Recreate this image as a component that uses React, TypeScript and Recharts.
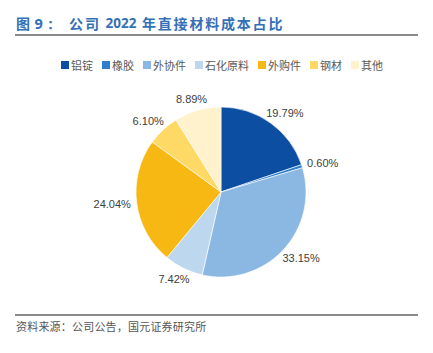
import React from 'react';
import { PieChart, Pie, Cell } from 'recharts';

const categories = ['铝锭', '橡胶', '外协件', '石化原料', '外购件', '钢材', '其他'];
const shares = [19.79, 0.6, 33.15, 7.42, 24.04, 6.1, 8.89];
const colors = ['#0B4EA2', '#2F7FCF', '#8AB8E2', '#BDD7EE', '#F8B814', '#FFD966', '#FFF2CC'];

const data = categories.map((name, i) => ({ name, value: shares[i] }));

const RAD = Math.PI / 180;

const renderLabel = (props: any) => {
  const { cx, cy, midAngle, outerRadius, index } = props;
  const text = shares[index].toFixed(2) + '%';
  const dx = Math.cos(-midAngle * RAD);
  const dy = Math.sin(-midAngle * RAD);
  const r = outerRadius + 6;
  const ax = cx + r * dx;
  const ay = cy + r * dy;
  const w = text.length * 5.9 + 2;
  const h = 12;
  const x = ax + (dx * w) / 2;
  const y = ay + (dy * h) / 2;
  return (
    <text
      x={x}
      y={y}
      textAnchor="middle"
      dominantBaseline="central"
      fill="#404040"
      fontSize={11}
      fontFamily="'Liberation Sans', Arial, sans-serif"
    >
      {text}
    </text>
  );
};

const cjk = "'Noto Sans CJK SC', sans-serif";

export default function App() {
  return (
    <div style={{ position: 'absolute', left: 0, top: 0, width: 433, height: 353, background: '#fff', overflow: 'hidden' }}>
      <div style={{ position: 'absolute', left: 0, top: 0, width: 433, height: 353, fontFamily: cjk, color: '#3370B7', fontWeight: 700, fontSize: 14, lineHeight: '14px' }}>
        <span style={{ position: 'absolute', left: 16, top: 16 }}>图</span>
        <span style={{ position: 'absolute', left: 34.5, top: 16, fontFamily: "'Noto Sans', sans-serif", fontSize: 14.5 }}>9：</span>
        <span style={{ position: 'absolute', left: 69, top: 16, letterSpacing: 2 }}>公司</span>
        <span style={{ position: 'absolute', left: 105.5, top: 16, fontFamily: "'Noto Sans', sans-serif", fontSize: 13.5 }}>2022</span>
        <span style={{ position: 'absolute', left: 142, top: 16, letterSpacing: 1.8 }}>年直接材料成本占比</span>
      </div>
      <div style={{ position: 'absolute', left: 15, top: 34, width: 403, height: 2, background: '#8C8C8C' }} />
      <div style={{ position: 'absolute', left: 61, top: 58, display: 'flex', alignItems: 'center', fontFamily: cjk, fontSize: 11, color: '#595959', lineHeight: '14px', whiteSpace: 'nowrap' }}>
        {categories.map((c, i) => (
          <div key={c} style={{ display: 'flex', alignItems: 'center', marginRight: 9 }}>
            <div style={{ width: 8, height: 8, background: colors[i], marginRight: 2 }} />
            <span>{c}</span>
          </div>
        ))}
      </div>
      <div style={{ position: 'absolute', left: 0, top: 0 }}>
        <PieChart width={433} height={353} margin={{ top: 0, right: 0, bottom: 0, left: 0 }}>
          <Pie
            data={data}
            dataKey="value"
            nameKey="name"
            cx={221}
            cy={192}
            outerRadius={85}
            startAngle={90}
            endAngle={-270}
            stroke="#ffffff"
            strokeWidth={0.6}
            label={renderLabel}
            labelLine={false}
            isAnimationActive={false}
          >
            {data.map((d, i) => (
              <Cell key={d.name} fill={colors[i]} />
            ))}
          </Pie>
        </PieChart>
      </div>
      <div style={{ position: 'absolute', left: 15, top: 314, width: 403, height: 2, background: '#8C8C8C' }} />
      <div style={{ position: 'absolute', left: 16, top: 319, fontFamily: cjk, fontSize: 11, lineHeight: '14px', color: '#555', letterSpacing: 0.2, whiteSpace: 'nowrap' }}>
        资料来源：公司公告，国元证券研究所
      </div>
    </div>
  );
}
